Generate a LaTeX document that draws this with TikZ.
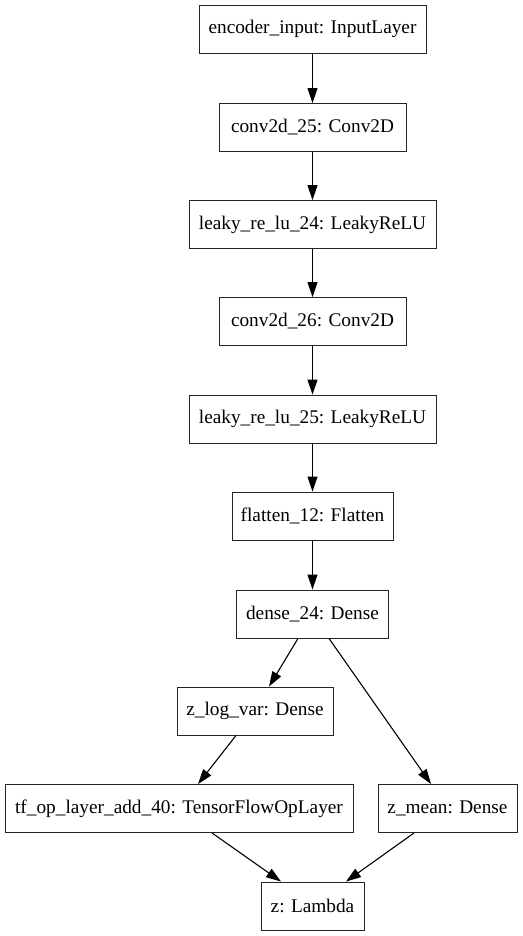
\documentclass[tikz,border=0pt]{standalone}
\usepackage{fontspec}
\setmainfont{Liberation Serif}
\usetikzlibrary{arrows.meta}
\begin{document}
\begin{tikzpicture}[x=1pt,y=-1pt,
  layer/.style={draw=black!85,line width=0.9pt,rectangle,inner sep=0pt,minimum height=48pt,font=\fontsize{19.3}{23}\selectfont},
  edge/.style={line width=1.1pt,-{Triangle[length=15pt,width=10pt]}}]
\useasboundingbox (0,0) rectangle (522,936);
\node[layer,minimum width=227pt] (enc) at (312.5,29) {encoder\_input: InputLayer};
\node[layer,minimum width=187pt] (c25) at (312.5,127.5) {conv2d\_25: Conv2D};
\node[layer,minimum width=247pt] (l24) at (312.5,224.5) {leaky\_re\_lu\_24: LeakyReLU};
\node[layer,minimum width=187pt] (c26) at (312.5,321.5) {conv2d\_26: Conv2D};
\node[layer,minimum width=247pt] (l25) at (312.5,419) {leaky\_re\_lu\_25: LeakyReLU};
\node[layer,minimum width=161pt] (f12) at (312.5,516) {flatten\_12: Flatten};
\node[layer,minimum width=152pt] (d24) at (312.5,614) {dense\_24: Dense};
\node[layer,minimum width=156pt] (zlv) at (255,711) {z\_log\_var: Dense};
\node[layer,minimum width=348pt] (tf) at (179,808.5) {tf\_op\_layer\_add\_40: TensorFlowOpLayer};
\node[layer,minimum width=139pt] (zm) at (447.5,808.5) {z\_mean: Dense};
\node[layer,minimum width=103pt] (z) at (312.5,906) {z: Lambda};
\draw[edge] (enc) -- (c25);
\draw[edge] (c25) -- (l24);
\draw[edge] (l24) -- (c26);
\draw[edge] (c26) -- (l25);
\draw[edge] (l25) -- (f12);
\draw[edge] (f12) -- (d24);
\draw[edge] ([xshift=-14.5pt]d24.south) -- ([xshift=14pt]zlv.north);
\draw[edge] ([xshift=16.5pt]d24.south) -- ([xshift=-16.5pt]zm.north);
\draw[edge] ([xshift=-19pt]zlv.south) -- ([xshift=19pt]tf.north);
\draw[edge] ([xshift=33pt]tf.south) -- ([xshift=-31.5pt]z.north);
\draw[edge] ([xshift=-33.5pt]zm.south) -- ([xshift=33.5pt]z.north);
\end{tikzpicture}
\end{document}
